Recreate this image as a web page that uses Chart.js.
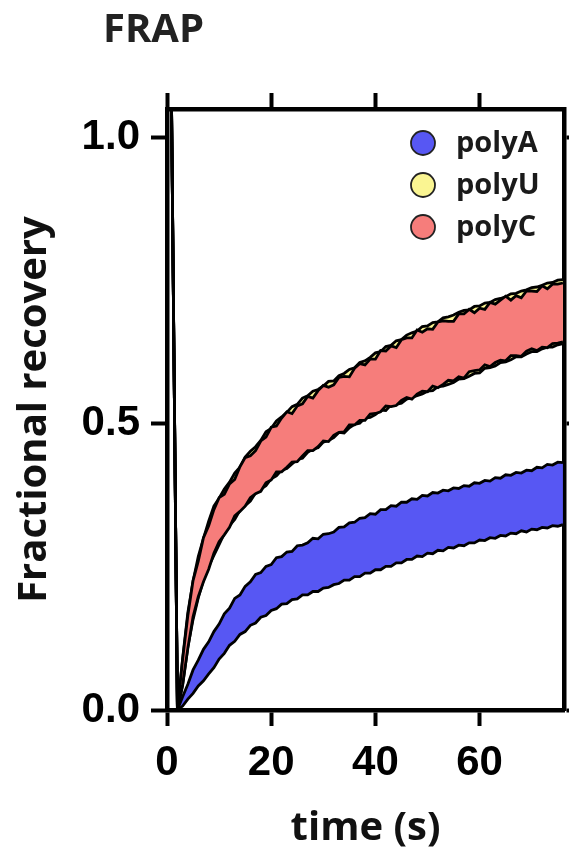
<!DOCTYPE html>
<html>
<head>
<meta charset="utf-8">
<title>FRAP</title>
<script src="https://cdn.jsdelivr.net/npm/chart.js@4.4.1/dist/chart.umd.min.js"></script>
<style>
  html, body { margin: 0; padding: 0; background: #fff; overflow: hidden; }
  #wrap { position: relative; width: 569px; height: 850px; }
  #frap { position: absolute; left: 103px; top: 7px; font: 700 40px/40px "Open Sans", sans-serif; color: #222; }
  canvas { display: block; }
</style>
</head>
<body>
<div id="wrap">
  <canvas id="myChart" width="569" height="850"></canvas>
  <div id="frap">FRAP</div>
</div>
<script>
// time points (s): one pre-bleach frame, bleach at 2 s, then 1 s steps
const time = [0.8,
  2, 3, 4, 5, 6, 7, 8, 9, 10, 11,
  12, 13, 14, 15, 16, 17, 18, 19, 20, 21,
  22, 23, 24, 25, 26, 27, 28, 29, 30, 31,
  32, 33, 34, 35, 36, 37, 38, 39, 40, 41,
  42, 43, 44, 45, 46, 47, 48, 49, 50, 51,
  52, 53, 54, 55, 56, 57, 58, 59, 60, 61,
  62, 63, 64, 65, 66, 67, 68, 69, 70, 71,
  72, 73, 74, 75, 76];

// upper / lower edge of each recovery band
const polyAHigh = [1.12,
  0.000, 0.023, 0.045, 0.070, 0.087, 0.106, 0.119, 0.137, 0.150, 0.168,
  0.178, 0.195, 0.201, 0.216, 0.224, 0.237, 0.240, 0.251, 0.254, 0.266,
  0.268, 0.276, 0.277, 0.287, 0.288, 0.292, 0.300, 0.299, 0.307, 0.308,
  0.311, 0.319, 0.320, 0.327, 0.328, 0.335, 0.336, 0.343, 0.342, 0.350,
  0.350, 0.357, 0.356, 0.363, 0.363, 0.369, 0.368, 0.375, 0.374, 0.380,
  0.379, 0.384, 0.383, 0.388, 0.387, 0.392, 0.391, 0.397, 0.396, 0.401,
  0.400, 0.406, 0.405, 0.411, 0.410, 0.415, 0.414, 0.419, 0.418, 0.424,
  0.423, 0.429, 0.428, 0.433, 0.432];
const polyALow = [1.12,
  0.000, 0.007, 0.019, 0.029, 0.042, 0.051, 0.063, 0.074, 0.089, 0.099,
  0.113, 0.120, 0.132, 0.137, 0.148, 0.152, 0.162, 0.165, 0.174, 0.177,
  0.185, 0.186, 0.193, 0.194, 0.201, 0.201, 0.207, 0.207, 0.213, 0.214,
  0.219, 0.221, 0.227, 0.227, 0.233, 0.233, 0.239, 0.239, 0.245, 0.245,
  0.251, 0.251, 0.257, 0.257, 0.263, 0.263, 0.269, 0.268, 0.274, 0.273,
  0.279, 0.278, 0.284, 0.283, 0.288, 0.287, 0.292, 0.292, 0.297, 0.296,
  0.301, 0.300, 0.305, 0.304, 0.309, 0.308, 0.313, 0.311, 0.316, 0.315,
  0.319, 0.318, 0.322, 0.321, 0.324];
const polyUHigh = [1.12,
  0.000, 0.090, 0.170, 0.225, 0.268, 0.300, 0.330, 0.356, 0.370, 0.386,
  0.398, 0.414, 0.424, 0.442, 0.452, 0.460, 0.471, 0.486, 0.492, 0.505,
  0.512, 0.520, 0.530, 0.534, 0.545, 0.549, 0.557, 0.560, 0.566, 0.574,
  0.575, 0.584, 0.588, 0.595, 0.598, 0.607, 0.610, 0.616, 0.624, 0.626,
  0.635, 0.637, 0.645, 0.647, 0.655, 0.659, 0.662, 0.670, 0.671, 0.677,
  0.678, 0.685, 0.687, 0.690, 0.695, 0.698, 0.699, 0.705, 0.706, 0.711,
  0.712, 0.717, 0.719, 0.722, 0.727, 0.728, 0.732, 0.734, 0.738, 0.739,
  0.742, 0.746, 0.747, 0.751, 0.752];
const polyULow = [1.12,
  0.000, 0.043, 0.110, 0.158, 0.196, 0.227, 0.251, 0.270, 0.289, 0.308,
  0.322, 0.333, 0.349, 0.357, 0.365, 0.379, 0.386, 0.392, 0.404, 0.409,
  0.419, 0.422, 0.430, 0.438, 0.440, 0.450, 0.456, 0.458, 0.468, 0.471,
  0.476, 0.485, 0.484, 0.493, 0.499, 0.501, 0.510, 0.511, 0.516, 0.524,
  0.523, 0.533, 0.534, 0.536, 0.543, 0.546, 0.549, 0.552, 0.557, 0.558,
  0.565, 0.566, 0.569, 0.572, 0.578, 0.579, 0.583, 0.588, 0.589, 0.597,
  0.598, 0.601, 0.607, 0.608, 0.612, 0.617, 0.617, 0.622, 0.626, 0.626,
  0.631, 0.634, 0.634, 0.638, 0.640];
const polyCHigh = [1.12,
  0.000, 0.088, 0.165, 0.226, 0.260, 0.301, 0.322, 0.350, 0.371, 0.377,
  0.395, 0.403, 0.425, 0.441, 0.444, 0.453, 0.470, 0.477, 0.494, 0.496,
  0.510, 0.521, 0.518, 0.531, 0.535, 0.548, 0.545, 0.558, 0.567, 0.564,
  0.568, 0.581, 0.583, 0.582, 0.597, 0.605, 0.603, 0.613, 0.613, 0.628,
  0.627, 0.636, 0.633, 0.647, 0.650, 0.650, 0.664, 0.660, 0.666, 0.665,
  0.678, 0.680, 0.679, 0.679, 0.692, 0.692, 0.700, 0.694, 0.702, 0.700,
  0.712, 0.709, 0.716, 0.723, 0.716, 0.724, 0.720, 0.732, 0.732, 0.731,
  0.741, 0.736, 0.744, 0.744, 0.746];
const polyCLow = [1.12,
  0.000, 0.045, 0.108, 0.163, 0.198, 0.224, 0.246, 0.274, 0.294, 0.306,
  0.319, 0.339, 0.347, 0.356, 0.371, 0.378, 0.382, 0.397, 0.402, 0.416,
  0.416, 0.424, 0.433, 0.434, 0.444, 0.453, 0.453, 0.460, 0.470, 0.469,
  0.480, 0.485, 0.486, 0.498, 0.498, 0.506, 0.506, 0.517, 0.518, 0.521,
  0.531, 0.530, 0.532, 0.541, 0.546, 0.543, 0.552, 0.557, 0.556, 0.566,
  0.563, 0.569, 0.576, 0.575, 0.582, 0.580, 0.591, 0.593, 0.594, 0.603,
  0.600, 0.607, 0.611, 0.610, 0.619, 0.619, 0.618, 0.627, 0.631, 0.628,
  0.634, 0.633, 0.640, 0.641, 0.643];

const names = ['polyA', 'polyU', 'polyC'];
const colores = ['#5757f3', '#faf592', '#f67d7b'];

const xTicks = [0, 20, 40, 60];
const yTicks = [0, 0.5, 1.0];

const pts = (vals) => time.map((t, i) => ({ x: t, y: vals[i] }));

// one edge of a band; the upper edge fills down to the dataset before it
const edge = (vals, fillColor) => ({
    data: pts(vals),
    borderColor: '#000',
    borderWidth: 2.8,
    pointRadius: 0,
    tension: 0,
    backgroundColor: fillColor || 'transparent',
    fill: fillColor ? '-1' : false
});

// legend drawn inside the plot, top right
const bandLegend = {
    id: 'bandLegend',
    afterDraw(chart) {
        const { ctx, chartArea } = chart;
        ctx.save();
        ctx.font = 'bold 29px "Open Sans"';
        ctx.textBaseline = 'middle';
        ctx.textAlign = 'left';
        names.forEach((name, i) => {
            const cx = chartArea.right - 141;
            const cy = chartArea.top + 34 + i * 42;
            ctx.beginPath();
            ctx.arc(cx, cy, 12, 0, Math.PI * 2);
            ctx.fillStyle = colores[i];
            ctx.fill();
            ctx.lineWidth = 1.8;
            ctx.strokeStyle = '#222';
            ctx.stroke();
            ctx.fillStyle = '#1a1a1a';
            ctx.fillText(name, cx + 33, cy + 1);
        });
        ctx.restore();
    }
};

const tickFont = { family: '"Liberation Sans", Arial', size: 42, weight: 'bold' };
const titleFont = { family: '"Open Sans"', size: 40, weight: 'bold', lineHeight: 1 };
const grid = { drawOnChartArea: false, drawTicks: true, tickLength: 16, tickWidth: 4, tickColor: '#000' };
const border = { color: '#000', width: 4.5 };

const fixTicks = (list) => (scale) => { scale.ticks = list.map((v) => ({ value: v })); };

const ctx = document.getElementById('myChart').getContext('2d');
const myChart = new Chart(ctx, {
    type: 'line',
    data: {
        datasets: [
            edge(polyALow),
            edge(polyAHigh, colores[0]),
            edge(polyCLow),
            edge(polyCHigh, colores[2]),
            edge(polyULow),
            edge(polyUHigh, colores[1])
        ]
    },
    options: {
        responsive: false,
        animation: false,
        layout: { padding: 0 },
        plugins: {
            legend: { display: false },
            tooltip: { enabled: false },
            title: { display: false }
        },
        scales: {
            x: {
                type: 'linear', position: 'bottom', min: 0, max: 76.2,
                afterBuildTicks: fixTicks(xTicks),
                ticks: { font: tickFont, color: '#000', padding: 12, maxRotation: 0 },
                grid: grid, border: border,
                title: { display: true, text: 'time (s)', font: titleFont, color: '#111', padding: { bottom: 1 } },
                afterFit: (s) => { s.height = 140; }
            },
            x2: {
                type: 'linear', position: 'top', min: 0, max: 76.2,
                afterBuildTicks: fixTicks(xTicks),
                ticks: { display: false },
                grid: grid, border: border,
                afterFit: (s) => { s.height = 109; }
            },
            y: {
                type: 'linear', position: 'left', min: 0, max: 1.05,
                afterBuildTicks: fixTicks(yTicks),
                ticks: { font: tickFont, color: '#000', padding: 11, callback: (v) => v.toFixed(1) },
                grid: grid, border: border,
                title: { display: true, text: 'Fractional recovery', font: titleFont, color: '#111', padding: { top: 15 } },
                afterFit: (s) => { s.width = 167; }
            },
            y2: {
                type: 'linear', position: 'right', min: 0, max: 1.05,
                afterBuildTicks: fixTicks(yTicks),
                ticks: { display: false },
                grid: grid, border: border,
                afterFit: (s) => { s.width = 5; }
            }
        }
    },
    plugins: [bandLegend]
});
</script>
</body>
</html>
